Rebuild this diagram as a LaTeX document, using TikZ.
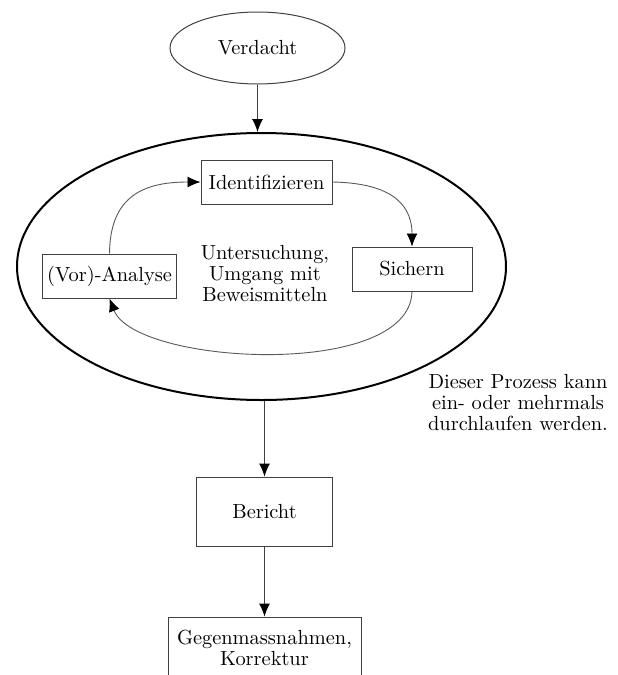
\documentclass[tikz,border=0pt]{standalone}
\usetikzlibrary{shapes.geometric,arrows.meta}
\begin{document}
\begin{tikzpicture}[x=0.5pt,y=-0.5pt,
  txt/.style={font=\fontsize{10.2}{10.5}\selectfont,align=center,inner sep=0pt},
  stepbox/.style={txt,draw=black!75,line width=0.5pt,rectangle,minimum height=22pt},
  thin/.style={draw=black!75,line width=0.5pt},
  arr/.style={thin,-{Latex[length=6.5pt,width=5.5pt,color=black]}},
  looparr/.style={draw=black!65,line width=0.45pt,-{Latex[length=6.5pt,width=5.5pt,color=black]}}]
\useasboundingbox (0,0) rectangle (617,675);
\node[txt,ellipse,thin,minimum width=87.5pt,minimum height=36pt] (verd) at (257.5,48) {Verdacht};
\node[ellipse,draw=black,line width=1pt,minimum width=244.5pt,minimum height=133.5pt,inner sep=0pt] (loop) at (261.5,266.5) {};
\node[stepbox,minimum width=65.5pt] (ident) at (266.5,182) {Identifizieren};
\node[stepbox,minimum width=60pt] (sich) at (412,269) {Sichern};
\node[stepbox,minimum width=67pt] (ana) at (109.5,276) {(Vor)-Analyse};
\node[txt] (mid) at (265,274) {Untersuchung,\\Umgang mit\\Beweismitteln};
\node[txt] (note) at (518,403) {Dieser Prozess kann\\ein- oder mehrmals\\durchlaufen werden.};
\node[stepbox,minimum width=68pt,minimum height=34.5pt] (ber) at (264.5,511.5) {Bericht};
\node[stepbox,minimum width=96.5pt,minimum height=31pt] (gegen) at (264.5,648) {Gegenmassnahmen,\\Korrektur};
\draw[arr] (verd.south) -- (verd.south |- loop.north);
\draw[looparr] (ana.north) .. controls (110,195) and (145,182) .. (ident.west);
\draw[looparr] (ident.east) .. controls (385,183) and (412,200) .. (sich.north);
\draw[looparr] (sich.south) .. controls (410,380) and (135,365) .. (ana.south);
\draw[arr] (ber.north |- loop.south) -- (ber.north);
\draw[arr] (ber.south) -- (gegen.north);
\end{tikzpicture}
\end{document}
